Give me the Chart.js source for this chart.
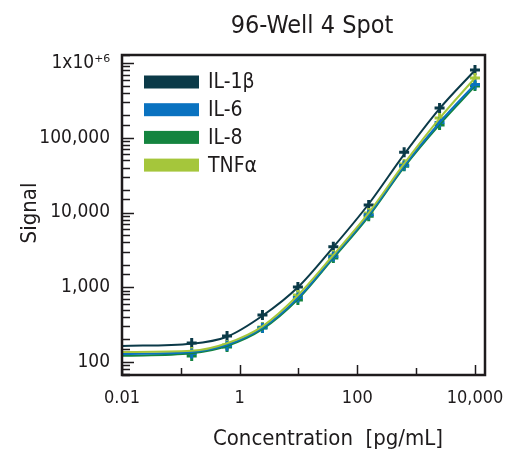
<!DOCTYPE html>
<html>
<head>
<meta charset="utf-8">
<script src="https://cdn.jsdelivr.net/npm/chart.js@4/dist/chart.umd.min.js"></script>
<style>
  body { margin: 0; background: #fff; }
  #mygraph { display: block; }
</style>
</head>
<body>
<canvas id="mygraph" width="505" height="452"></canvas>
<script>
// concentrations of the standards [pg/mL]
const conc = [0.153, 0.61, 2.44, 9.77, 39.1, 156, 625, 2500, 10000]
// measured signal per analyte
const il1b = [180, 223, 426, 1010, 3470, 12600, 64000, 250000, 806000]
const il6 = [130, 165, 288, 730, 2580, 9300, 42500, 160000, 515000]
const il8 = [120, 159, 285, 676, 2460, 8900, 41700, 148000, 492000]
const tnfa = [136, 169, 294, 787, 2700, 9840, 44600, 184000, 631000]

// fitted curves
const fitConc = [0.01, 0.153, 0.61, 2.44, 9.77, 39.1, 156, 625, 2500, 10000]
const il1bFit = [164, 176, 218, 415, 1000, 3450, 13000, 60000, 245000, 800000]
const il6Fit = [128, 136, 170, 285, 720, 2550, 9300, 42000, 160000, 520000]
const il8Fit = [121, 131, 164, 275, 690, 2450, 8900, 40500, 150000, 490000]
const tnfaFit = [136, 141, 178, 300, 780, 2700, 9900, 45000, 182000, 630000]

const seriesNames = ['IL-1β', 'IL-6', 'IL-8', 'TNFα']
const seriesColors = ['#0b3a48', '#0a72c0', '#14843f', '#a5c63b']

const xTickVals = [0.01, 0.1, 1, 10, 100, 1000, 10000]
const xTickLabels = { 0.01: '0.01', 1: '1', 100: '100', 10000: '10,000' }
const yTickLabels = { 100: '100', 1000: '1,000', 10000: '10,000', 100000: '100,000', 1000000: '1x10⁺⁶' }

const FONT = '"Liberation Sans Narrow", "DejaVu Sans Condensed", sans-serif'
const INK = '#1e1b1c'

let pts = (xs, ys) => xs.map((x, i) => ({ x: x, y: ys[i] }))

let markers = [il1b, il6, il8, tnfa]
let fits = [il1bFit, il6Fit, il8Fit, tnfaFit]

let datasets = []
// light series lines under the others, dark one last like the reference
let lineOrder = [3, 1, 2, 0]
let markerOrder = [1, 2, 3, 0]
lineOrder.forEach(i => {
  datasets.push({
    label: seriesNames[i] + ' fit',
    data: pts(fitConc, fits[i]),
    borderColor: seriesColors[i],
    borderWidth: 2,
    pointRadius: 0,
    cubicInterpolationMode: 'monotone',
    fill: false
  })
})
markerOrder.forEach(i => {
  datasets.push({
    label: seriesNames[i],
    data: pts(conc, markers[i]),
    showLine: false,
    pointStyle: 'cross',
    pointRadius: 5,
    borderWidth: 3,
    borderColor: seriesColors[i],
    backgroundColor: seriesColors[i]
  })
})

// frame, inward tick marks, legend and titles
const decorations = {
  id: 'decorations',
  afterDraw(chart) {
    const ctx = chart.ctx
    const a = chart.chartArea
    const xs = chart.scales.x
    const ys = chart.scales.y
    ctx.save()
    ctx.strokeStyle = INK
    ctx.lineWidth = 1.5

    // y ticks
    ys.ticks.forEach(t => {
      const v = t.value
      if (v < ys.min || v > ys.max) return
      const p = Math.round(ys.getPixelForValue(v)) + 0.5
      const major = Math.abs(Math.log10(v) - Math.round(Math.log10(v))) < 1e-6
      const len = major ? 12 : 8
      ctx.beginPath()
      ctx.moveTo(a.left, p)
      ctx.lineTo(a.left + len, p)
      ctx.stroke()
    })
    // x ticks
    xTickVals.forEach(v => {
      const p = Math.round(xs.getPixelForValue(v)) + 0.5
      const len = xTickLabels[v] ? 10 : 7
      ctx.beginPath()
      ctx.moveTo(p, a.bottom)
      ctx.lineTo(p, a.bottom - len)
      ctx.stroke()
    })

    // frame
    ctx.lineWidth = 2.5
    ctx.strokeRect(a.left, a.top, a.right - a.left, a.bottom - a.top)

    // legend inside the plot
    ctx.font = '21px ' + FONT
    ctx.textBaseline = 'middle'
    ctx.textAlign = 'left'
    seriesNames.forEach((name, i) => {
      const y = a.top + 27 + i * 27.7
      ctx.fillStyle = seriesColors[i]
      ctx.fillRect(a.left + 22, y - 6.5, 55, 13)
      ctx.fillStyle = INK
      ctx.fillText(name, a.left + 86, y + 1)
    })

    // titles
    ctx.fillStyle = INK
    ctx.font = '25px ' + FONT
    ctx.textAlign = 'center'
    ctx.textBaseline = 'alphabetic'
    ctx.fillText('96-Well 4 Spot', 312, 33)
    ctx.font = '22px ' + FONT
    ctx.fillText('Concentration  [pg/mL]', 328, 445)
    ctx.translate(36, 213)
    ctx.rotate(-Math.PI / 2)
    ctx.fillText('Signal', 0, 0)
    ctx.restore()
  }
}

let ctx = document.getElementById('mygraph').getContext('2d')
new Chart(ctx, {
  type: 'line',
  data: { datasets: datasets },
  plugins: [decorations],
  options: {
    responsive: false,
    animation: false,
    layout: { padding: { top: 55, right: 20, left: 0, bottom: 0 } },
    plugins: {
      legend: { display: false },
      title: { display: false },
      tooltip: { enabled: false }
    },
    scales: {
      x: {
        type: 'logarithmic',
        min: 0.01,
        max: 14800,
        afterFit: s => { s.height = 77 },
        grid: { drawOnChartArea: false, drawTicks: false },
        border: { display: false },
        ticks: {
          autoSkip: false,
          maxRotation: 0,
          padding: 13,
          color: INK,
          font: { family: FONT, size: 18 },
          callback: v => xTickLabels[v] || ''
        }
      },
      y: {
        type: 'logarithmic',
        min: 67,
        max: 1280000,
        afterFit: s => { s.width = 122 },
        grid: { drawOnChartArea: false, drawTicks: false },
        border: { display: false },
        ticks: {
          autoSkip: false,
          padding: 12,
          color: INK,
          font: { family: FONT, size: 19 },
          callback: v => yTickLabels[v] || ''
        }
      }
    }
  }
})
</script>
</body>
</html>
